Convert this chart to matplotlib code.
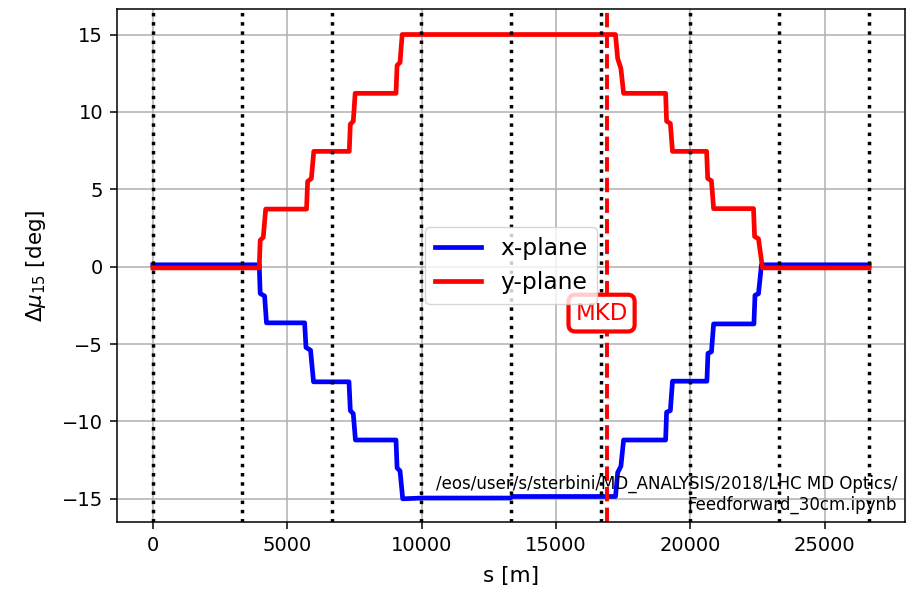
import matplotlib
matplotlib.use("Agg")
import matplotlib.pyplot as plt

# IP positions (dotted lines) and MKD location
ip_s = [0, 3332.4, 6664.7, 9997.0, 13329.3, 16661.7, 19994.2, 23315.4, 26658.9]
mkd_s = 16900

# x-plane phase-advance difference (piecewise profile)
x_s = [0, 3960, 3995, 4160, 4230,
       5650, 5700, 5870, 5980,
       7300, 7350, 7460, 7540,
       9050, 9090, 9200, 9300,
       10000, 13300, 13400, 17220,
       17300, 17420, 17520,
       19084, 19120, 19260, 19340,
       20620, 20660, 20790, 20870,
       22370, 22410, 22540, 22650, 26659]
x_v = [0.12, 0.12, -1.73, -1.9, -3.63,
       -3.63, -5.22, -5.4, -7.44,
       -7.44, -9.3, -9.5, -11.2,
       -11.2, -13.0, -13.2, -15.0,
       -14.95, -14.95, -14.85, -14.85,
       -13.3, -12.9, -11.2,
       -11.2, -9.4, -9.3, -7.4,
       -7.4, -5.6, -5.5, -3.7,
       -3.7, -1.85, -1.75, 0.12, 0.12]

# y-plane phase-advance difference
y_s = [0, 3960, 3995, 4110, 4200,
       5720, 5760, 5900, 5990,
       7310, 7350, 7460, 7530,
       9050, 9090, 9200, 9280,
       17217, 17300, 17420, 17520,
       19084, 19120, 19260, 19340,
       20610, 20650, 20790, 20870,
       22355, 22395, 22540, 22690, 26659]
y_v = [-0.08, -0.08, 1.7, 1.9, 3.72,
       3.72, 5.5, 5.7, 7.45,
       7.45, 9.2, 9.4, 11.2,
       11.2, 13.0, 13.2, 15.0,
       15.0, 13.45, 12.8, 11.2,
       11.2, 9.4, 9.25, 7.45,
       7.45, 5.7, 5.55, 3.75,
       3.75, 1.95, 1.8, -0.08, -0.08]

note = "/eos/user/s/sterbini/MD_ANALYSIS/2018/LHC MD Optics/\nFeedforward_30cm.ipynb"

fig = plt.figure(figsize=(9.12, 5.99), dpi=100)
ax = fig.add_axes([0.1283, 0.1285, 0.8640, 0.8565])

ax.plot(x_s, x_v, color="blue", lw=3.4, label="x-plane")
ax.plot(y_s, y_v, color="red", lw=3.4, label="y-plane")

for s in ip_s:
    ax.axvline(s, color="black", ls=":", lw=2.5)
ax.axvline(mkd_s, color="red", ls="--", lw=2.8)

ax.text(16700, -3.0, "MKD", color="red", fontsize=16.5, ha="center", va="center",
        bbox=dict(boxstyle="round,pad=0.3", fc="white", ec="red", lw=3))

ax.text(0.99, 0.015, note, transform=ax.transAxes, ha="right", va="bottom",
        fontsize=12, multialignment="right")

ax.grid(True, color="#b0b0b0", lw=1.1)
ax.set_xlim(-1333, 27992)
ax.set_ylim(-16.5, 16.65)
ax.set_xticks([0, 5000, 10000, 15000, 20000, 25000])
ax.set_yticks([-15, -10, -5, 0, 5, 10, 15])
ax.tick_params(labelsize=14, length=5, width=1.1, pad=5)
ax.set_xlabel("s [m]", fontsize=15.5, labelpad=8)
ax.set_ylabel(r"$\Delta\mu_{15}$ [deg]", fontsize=15.5, labelpad=10)
for sp in ax.spines.values():
    sp.set_linewidth(1.1)

ax.legend(loc="center", fontsize=16.8, handlelength=2.0)

fig.savefig("out.png", dpi=100)
